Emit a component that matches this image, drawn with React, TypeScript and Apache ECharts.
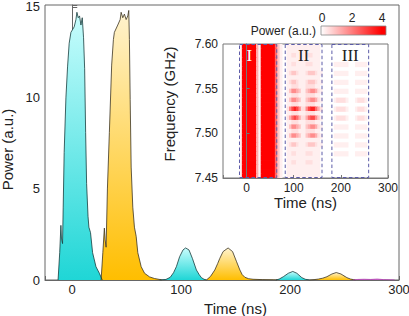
import React, { useEffect, useRef } from "react";
import * as echarts from "echarts";

// ---- main panel: pulse power vs time (ns, a.u.) ----
const pulse1: number[][] = [
  [-13, 0], [-11.5, 1.5], [-10.4, 3.0], [-9.9, 2.3], [-8.9, 2.0], [-8.3, 4.0], [-7.4, 7.0],
  [-5.8, 10.0], [-4.3, 11.7], [-2.8, 13.0], [-1.2, 13.6], [1.8, 13.9], [3.4, 14.3], [4.3, 14.7],
  [5.5, 14.4], [6.7, 14.5], [8.0, 14.0], [9.2, 14.4], [10.4, 13.3], [11.4, 11.6], [12.3, 8.1],
  [13.2, 5.3], [14.5, 3.5], [15.3, 2.9], [16.8, 2.6], [18.7, 1.5], [21.8, 0.73], [24.9, 0.37],
  [27.2, 0.05], [27.6, 0],
];
const pulse2: number[][] = [
  [26.5, 0], [28.1, 1.5], [29.5, 2.85], [30.2, 2.2], [31.1, 1.8], [32.3, 5.0], [34.1, 8.1],
  [36.2, 11.8], [37.8, 13.2], [38.7, 13.6], [41.8, 14.0], [44.0, 14.3], [44.9, 14.7], [46.4, 14.4],
  [47.9, 14.6], [49.5, 14.3], [51.0, 14.5], [51.9, 14.8], [52.5, 13.2], [53.2, 9.9], [54.1, 6.2],
  [55.6, 4.0], [57.1, 2.9], [58.7, 2.4], [60.2, 1.5], [63.3, 0.73], [66.4, 0.37], [71.0, 0.17],
  [75.6, 0.08], [80.2, 0.03], [82, 0],
];
const pulse3: number[][] = [
  [80, 0], [86, 0.03], [90, 0.15], [93, 0.4], [95.6, 0.73], [98.6, 1.28], [101.7, 1.65],
  [104.1, 1.76], [107.2, 1.65], [110.3, 1.19], [114, 0.55], [116.5, 0.3], [118.6, 0.13],
  [121, 0.04], [123.2, 0],
];
const pulse4: number[][] = [
  [123.2, 0], [127, 0.2], [130.9, 0.55], [133.5, 0.9], [135.5, 1.19], [138.5, 1.56], [143.1, 1.76],
  [147.2, 1.56], [150.9, 1.0], [153.9, 0.55], [156, 0.3], [158.5, 0.15], [162, 0.07], [166, 0.04],
  [175, 0.02], [185, 0.01], [188, 0],
];
const pulse5: number[][] = [
  [187, 0], [190, 0.05], [193.8, 0.18], [198.4, 0.37], [202.5, 0.47], [206.2, 0.37],
  [210.8, 0.13], [214, 0.04], [218, 0],
];
const pulse6: number[][] = [
  [218, 0], [222, 0.02], [226, 0.05], [230, 0.1], [233.8, 0.18], [238.4, 0.33], [242.4, 0.41],
  [246.7, 0.33], [252.2, 0.13], [255.5, 0.05], [258.3, 0.02], [260, 0],
];
const tailPulse: number[][] = [
  [258, 0], [262, 0.03], [268, 0.04], [274, 0.03], [280, 0.05], [286, 0.02], [292, 0.01], [296, 0],
];
const cyanPulses = [pulse1, pulse3, pulse5];
const orangePulses = [pulse2, pulse4, pulse6];

// ---- inset: spectrogram, one string per frequency row (top 7.60 -> bottom 7.45) ----
// each digit is a power level (see heatLevels) of a 5 ns x 0.005 GHz cell, time from -50 ns
const heatLevels = [0, 0.25, 0.5, 0.9, 1.3, 1.8, 2.3, 2.9, 3.5, 4.5];
const heatTimeStart = -50;
const heatTimeStep = 5;
const heatFreqTop = 7.6;
const heatFreqStep = 0.005;
const heatRows: string[] = [
  "00000001999999419999996310" + "0111111111111110" + "0000000000000000000000000000",
  "00000001999999419999996310" + "0111111111111110" + "0000000000000000000000000000",
  "00000001999999419999996310" + "0112211112221110" + "0000000000000000000000000000",
  "00000001999999419999996310" + "0111111111111110" + "0000000000000000000000000000",
  "00000001999999419999996310" + "0112211112221110" + "0000011111100011111000000000",
  "00000001999999419999996310" + "0111111111111110" + "0000000000000000000000000000",
  "00000001999999419999996310" + "0123321112333211" + "0000011111100011111000000000",
  "00000001999999419999996310" + "0111111111111110" + "0000000000000000000000000000",
  "00000001999999419999996310" + "0123321112333211" + "0000011111100011111000000000",
  "00000001999999419999996310" + "0112221112222110" + "0000000000000000000000000000",
  "00000001999999419999996310" + "0135543113455421" + "0000011111100011111000000000",
  "00000001999999419999996310" + "0112221112222110" + "0000000000000000000000000000",
  "00000001999999419999996310" + "0135543113455421" + "0000012222100012221000000000",
  "00000001999999419999996310" + "0112221112222110" + "0000000000000000000000000000",
  "00000001999999419999996310" + "0257875225788642" + "0000012222100012221000000000",
  "00000001999999419999996310" + "0112221112222110" + "0000000000000000000000000000",
  "00000001999999419999996310" + "0246764224677531" + "0000012222100012221000000000",
  "00000001999999419999996310" + "0112221112222110" + "0000000000000000000000000000",
  "00000001999999419999996310" + "0135543113455421" + "0000011111100011111000000000",
  "00000001999999419999996310" + "0112221112222110" + "0000000000000000000000000000",
  "00000001999999419999996310" + "0135543113455421" + "0000011111100011111000000000",
  "00000001999999419999996310" + "0111111111111110" + "0000000000000000000000000000",
  "00000001999999419999996310" + "0123321112333211" + "0000011111100011111000000000",
  "00000001999999419999996310" + "0111111111111110" + "0000000000000000000000000000",
  "00000001999999419999996310" + "0112211112221110" + "0000011111100011111000000000",
  "00000001999999419999996310" + "0111111111111110" + "0000000000000000000000000000",
  "00000001999999419999996310" + "0112211112221110" + "0000000000000000000000000000",
  "00000001999999419999996310" + "0111111111111110" + "0000000000000000000000000000",
  "00000001999999419999996310" + "0111111111111110" + "0000000000000000000000000000",
  "00000001999999419999996310" + "0111111111111110" + "0000000000000000000000000000",
];
// dashed windows in the inset: [start ns, end ns, label anchor ns]
const windowStart = [-15, 82, 181];
const windowEnd = [64, 160, 259];
const windowLabelAt = [6, 121, 220];
const windowLabels = ["I", "II", "III"];
const colorbarTicks = [0, 2, 4];

const FONT = '"Liberation Sans", Arial, Helvetica, sans-serif';
const SERIF = '"Liberation Serif", "Times New Roman", serif';

function heatColor(v: number): string {
  const a = Math.max(0, Math.min(1, v / 4));
  const gb = Math.round(255 * (1 - a));
  return `rgb(255,${gb},${gb})`;
}

export default function App() {
  const ref = useRef<HTMLDivElement>(null);
  useEffect(() => {
    if (!ref.current) return;
    const chart = echarts.init(ref.current, undefined, { renderer: "svg" });

    // merge runs of equal cells in each row: [tStart, tEnd, fLow, power]
    const heatData: number[][] = [];
    heatRows.forEach((row, k) => {
      const fLow = heatFreqTop - heatFreqStep * (k + 1);
      let i = 0;
      while (i < row.length) {
        let j = i;
        while (j + 1 < row.length && row[j + 1] === row[i]) j++;
        const d = Number(row[i]);
        if (d > 0) {
          heatData.push([heatTimeStart + i * heatTimeStep, heatTimeStart + (j + 1) * heatTimeStep, fLow, heatLevels[d]]);
        }
        i = j + 1;
      }
    });
    const windows = windowStart.map((s, i) => [s, windowEnd[i], windowLabelAt[i]]);

    const cyanFill = () =>
      new echarts.graphic.LinearGradient(0, 0, 0, 1, [
        { offset: 0, color: "#c9fdfd" },
        { offset: 1, color: "#1fd6d6" },
      ]);
    const orangeFill = () =>
      new echarts.graphic.LinearGradient(0, 0, 0, 1, [
        { offset: 0, color: "#fff3cf" },
        { offset: 1, color: "#ffbe00" },
      ]);
    const pulseSeries = (data: number[][], fill: any, line: string) => ({
      type: "line",
      xAxisIndex: 0,
      yAxisIndex: 0,
      data,
      symbol: "none",
      showSymbol: false,
      silent: true,
      lineStyle: { color: line, width: 0.8 },
      areaStyle: { color: fill, opacity: 1 },
      z: 2,
    });

    const axisLineStyle = { color: "#666", width: 1 };
    const labelStyle = { color: "#222", fontFamily: FONT };

    chart.setOption({
      animation: false,
      backgroundColor: "#fff",
      grid: [
        { left: 45, top: 5, right: 10, bottom: 36, show: true, borderColor: "#666", borderWidth: 1, backgroundColor: "transparent", containLabel: false, outerBoundsMode: "none" },
        { left: 223, top: 44, right: 21, bottom: 138, show: true, borderColor: "#777", borderWidth: 1, backgroundColor: "#fff", z: 5, containLabel: false, outerBoundsMode: "none" },
        { left: 322, top: 26, width: 60, height: 9, z: 6, containLabel: false, outerBoundsMode: "none" },
      ],
      xAxis: [
        {
          gridIndex: 0, type: "value", min: -25, max: 300, splitNumber: 6,
          axisLine: { lineStyle: axisLineStyle },
          axisTick: { inside: true, length: 4, lineStyle: axisLineStyle },
          splitLine: { show: false },
          axisLabel: { ...labelStyle, fontSize: 13, margin: 3, formatter: (v: number) => (v % 100 === 0 ? String(v) : "") },
          name: "Time (ns)", nameLocation: "middle", nameGap: 17,
          nameTextStyle: { ...labelStyle, fontSize: 15, padding: [0, 0, 0, 27] },
        },
        {
          gridIndex: 1, type: "value", min: -50, max: 300, splitNumber: 4, z: 5,
          axisLine: { lineStyle: { color: "#777", width: 1 } },
          axisTick: { inside: true, length: 3, lineStyle: { color: "#777" } },
          splitLine: { show: false },
          axisLabel: { ...labelStyle, fontSize: 12, margin: 4, formatter: (v: number) => (v % 100 === 0 ? String(v) : "") },
          name: "Time (ns)", nameLocation: "middle", nameGap: 17,
          nameTextStyle: { ...labelStyle, fontSize: 15 },
        },
        {
          gridIndex: 2, type: "value", min: 0, max: 4, interval: 2, position: "top", z: 6,
          axisLine: { show: false }, axisTick: { show: false }, splitLine: { show: false },
          axisLabel: { ...labelStyle, fontSize: 12, margin: 2, formatter: (v: number) => (colorbarTicks.includes(v) ? String(v) : "") },
        },
      ],
      yAxis: [
        {
          gridIndex: 0, type: "value", min: 0, max: 15.1, interval: 5,
          axisLine: { lineStyle: axisLineStyle },
          axisTick: { inside: true, length: 5, lineStyle: axisLineStyle },
          minorTick: { show: true, splitNumber: 2, length: 4, lineStyle: axisLineStyle },
          splitLine: { show: false },
          axisLabel: { ...labelStyle, fontSize: 13, margin: 5, formatter: (v: number) => (v % 5 === 0 ? String(v) : "") },
          name: "Power (a.u.)", nameLocation: "middle", nameGap: 28,
          nameTextStyle: { ...labelStyle, fontSize: 15, padding: [0, 14, 0, 0] },
        },
        {
          gridIndex: 1, type: "value", min: 7.45, max: 7.6, interval: 0.05, z: 5,
          axisLine: { lineStyle: { color: "#777", width: 1 } },
          axisTick: { inside: true, length: 3, lineStyle: { color: "#777" } },
          splitLine: { show: false },
          axisLabel: { ...labelStyle, fontSize: 12, margin: 5, formatter: (v: number) => v.toFixed(2) },
          name: "Frequency (GHz)", nameLocation: "middle", nameGap: 46,
          nameTextStyle: { ...labelStyle, fontSize: 15, padding: [0, 0, 0, 14] },
        },
        { gridIndex: 2, type: "value", min: 0, max: 1, show: false },
      ],
      graphic: [
        {
          type: "rect", z: 100,
          shape: { x: 321, y: 26, width: 65, height: 9 },
          style: {
            fill: new echarts.graphic.LinearGradient(0, 0, 1, 0, [
              { offset: 0, color: "#ffffff" },
              { offset: 0.93, color: "#ff0000" },
              { offset: 1, color: "#ff0000" },
            ]),
            stroke: "#888", lineWidth: 0.8,
          },
        },
        {
          type: "text", z: 100, x: 316, y: 31,
          style: {
            text: "Power (a.u.)", fill: "#222", font: `12px ${FONT}`,
            textAlign: "right", align: "right", textVerticalAlign: "middle", verticalAlign: "middle",
          },
        },
      ],
      series: [
        ...cyanPulses.map((p) => pulseSeries(p, cyanFill(), "#173c3c")),
        ...orangePulses.map((p) => pulseSeries(p, orangeFill(), "#3b3322")),
        {
          type: "line", xAxisIndex: 0, yAxisIndex: 0, data: tailPulse, symbol: "none", silent: true,
          lineStyle: { color: "#b03cb0", width: 0.8 }, areaStyle: { color: "#d070d0", opacity: 1 }, z: 2,
        },
        {
          type: "custom", xAxisIndex: 1, yAxisIndex: 1, data: heatData, silent: true, clip: true, z: 5,
          encode: { x: [0, 1], y: 2 },
          renderItem: (params: any, api: any) => {
            const t0 = api.value(0);
            const t1 = api.value(1);
            const f = api.value(2);
            const v = api.value(3);
            const p0 = api.coord([t0, f + heatFreqStep]);
            const p1 = api.coord([t1, f]);
            return {
              type: "rect",
              shape: { x: p0[0], y: p0[1], width: p1[0] - p0[0] + 0.6, height: p1[1] - p0[1] + 0.8 },
              style: { fill: heatColor(v) },
            };
          },
        },
        {
          type: "custom", xAxisIndex: 1, yAxisIndex: 1, data: windows, silent: true, z: 6,
          encode: { x: [0, 1] },
          renderItem: (params: any, api: any) => {
            const s = api.value(0);
            const e = api.value(1);
            const lt = api.value(2);
            const p0 = api.coord([s, 7.6]);
            const p1 = api.coord([e, 7.45]);
            const pl = api.coord([lt, 7.6]);
            const idx = params.dataIndex;
            return {
              type: "group",
              children: [
                {
                  type: "rect",
                  shape: { x: p0[0], y: p0[1] + 0.5, width: p1[0] - p0[0], height: p1[1] - p0[1] - 1 },
                  style: { fill: "none", stroke: "#5c5ca8", lineWidth: 1, lineDash: [3.5, 2.5] },
                },
                {
                  type: "text", x: pl[0], y: pl[1] + 3,
                  style: {
                    text: windowLabels[idx], fill: idx === 0 ? "#ffffff" : "#222222", font: `17px ${SERIF}`,
                    align: "center", textAlign: "center", verticalAlign: "top", textVerticalAlign: "top",
                  },
                },
              ],
            };
          },
        },
      ],
    });
    return () => chart.dispose();
  }, []);
  return <div ref={ref} style={{ width: 409, height: 316, position: "absolute", left: 0, top: 0 }} />;
}
